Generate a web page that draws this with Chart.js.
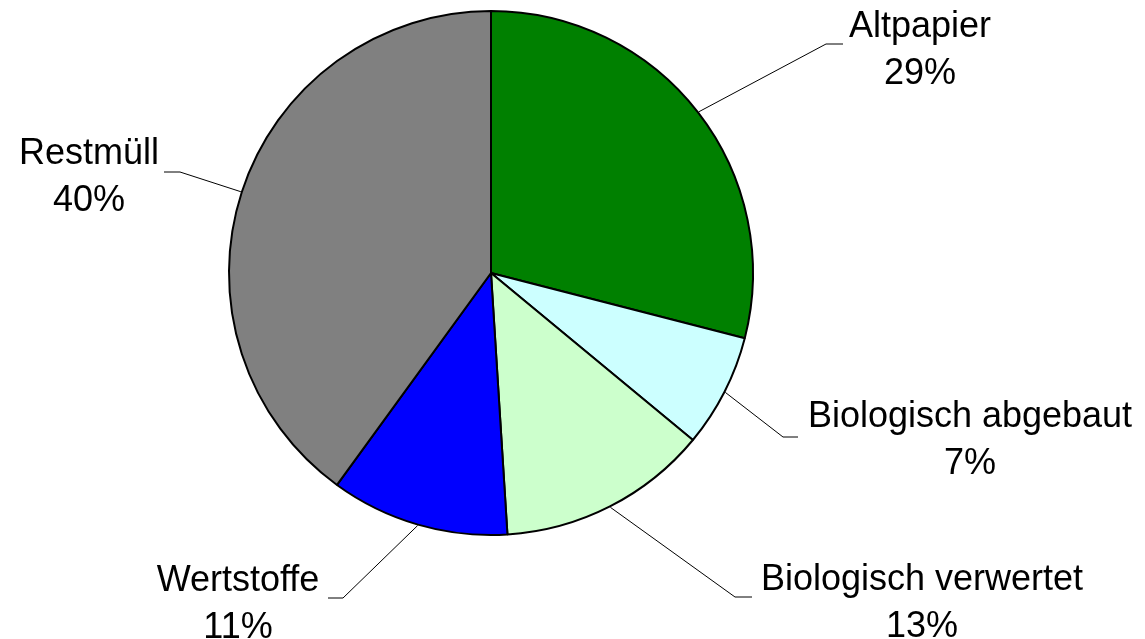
<!DOCTYPE html>
<html>
<head>
<meta charset="utf-8">
<script src="https://cdn.jsdelivr.net/npm/chart.js@4"></script>
<style>
html, body { margin: 0; padding: 0; background: #fff; }
#canvas { display: block; }
</style>
</head>
<body>
<canvas id="canvas" width="1145" height="639"></canvas>
<script>
var labels = ['Altpapier', 'Biologisch abgebaut', 'Biologisch verwertet', 'Wertstoffe', 'Restmüll'];
var values = [29, 7, 13, 11, 40];
var colors = ['#008000', '#CCFFFF', '#CCFFCC', '#0000FF', '#808080'];

// where each label sits: elbow of the leader line, end of the short horizontal part, text centre
var labelPos = [
    { elbow: [826, 44], end: [843, 44], text: [920, 27] },
    { elbow: [783, 437], end: [798, 437], text: [970, 417] },
    { elbow: [735, 597], end: [752, 597], text: [922, 580] },
    { elbow: [343, 598], end: [328, 598], text: [238, 581] },
    { elbow: [180, 172], end: [164, 172], text: [89, 154] }
];
var lineGap = 47;

var leaderLabels = {
    id: 'leaderLabels',
    afterDatasetsDraw: function(chart) {
        var ctx = chart.ctx;
        var meta = chart.getDatasetMeta(0);
        ctx.save();
        meta.data.forEach(function(arc, i) {
            var p = arc.getProps(['x', 'y', 'startAngle', 'endAngle', 'outerRadius'], true);
            var mid = (p.startAngle + p.endAngle) / 2;
            var r = p.outerRadius + 1;
            var sx = p.x + Math.cos(mid) * r;
            var sy = p.y + Math.sin(mid) * r;
            var lp = labelPos[i];
            ctx.strokeStyle = '#000';
            ctx.lineWidth = 1;
            ctx.beginPath();
            ctx.moveTo(sx, sy);
            ctx.lineTo(lp.elbow[0], lp.elbow[1]);
            ctx.lineTo(lp.end[0], lp.end[1]);
            ctx.stroke();

            ctx.fillStyle = '#000';
            ctx.font = '36px "Liberation Sans", Arial, sans-serif';
            ctx.textAlign = 'center';
            ctx.textBaseline = 'middle';
            ctx.fillText(labels[i], lp.text[0], lp.text[1]);
            ctx.fillText(values[i] + '%', lp.text[0], lp.text[1] + lineGap);
        });
        ctx.restore();
    }
};

var ctx = document.getElementById('canvas').getContext('2d');
var myChart = new Chart(ctx, {
    type: 'pie',
    data: {
        labels: labels,
        datasets: [{
            data: values,
            backgroundColor: colors,
            borderColor: '#000',
            borderWidth: 2,
            hoverOffset: 0
        }]
    },
    options: {
        responsive: false,
        animation: false,
        layout: {
            padding: { top: 10, bottom: 103, left: 0, right: 163 }
        },
        plugins: {
            legend: { display: false },
            tooltip: { enabled: false }
        }
    },
    plugins: [leaderLabels]
});
</script>
</body>
</html>
